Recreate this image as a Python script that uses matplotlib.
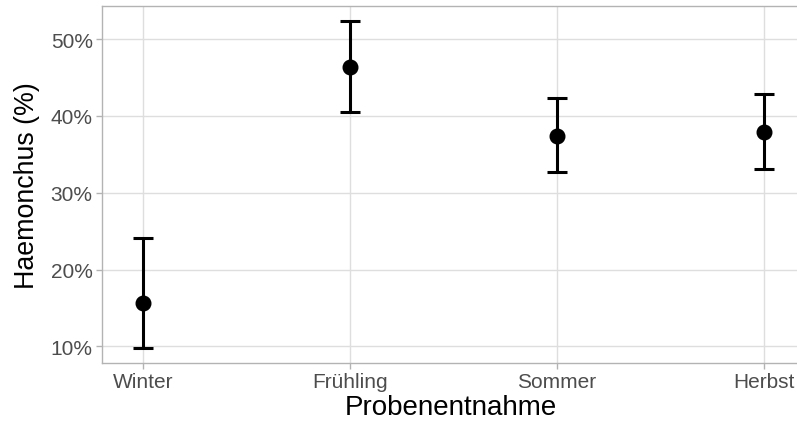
import numpy as np
import matplotlib.pyplot as plt

plt.rcParams['font.family'] = ['Liberation Sans', 'DejaVu Sans']

seasons = ['Winter', 'Frühling', 'Sommer', 'Herbst']
mean_pct = [15.6, 46.3, 37.4, 37.9]
lower_pct = [9.8, 40.5, 32.7, 33.1]
upper_pct = [24.1, 52.3, 42.3, 42.9]

W, H = 797, 427
fig = plt.figure(figsize=(W / 100, H / 100), dpi=100)
left, right, top, bottom = 101.7, 800, 7, 364
ax = fig.add_axes([left / W, 1 - bottom / H, (right - left) / W, (bottom - top) / H])

x = np.arange(len(seasons))
mean = np.array(mean_pct)
yerr = np.vstack([mean - np.array(lower_pct), np.array(upper_pct) - mean])

ax.errorbar(x, mean, yerr=yerr, fmt='o', color='black', ecolor='black',
            elinewidth=2.2, capsize=7.2, capthick=2.2, markersize=10.5, zorder=3)

px_per_unit = 206.8
ax.set_xlim(-(143.3 - left) / px_per_unit, (right - 143.3) / px_per_unit)
ax.set_ylim(7.83, 54.3)
ax.set_xticks(x)
ax.set_xticklabels(seasons)
yt = [10, 20, 30, 40, 50]
ax.set_yticks(yt)
ax.set_yticklabels([f'{v}%' for v in yt])

ax.grid(True, color='#DEDEDE', linewidth=1.0, zorder=0)
ax.set_axisbelow(True)
for s in ax.spines.values():
    s.set_color('#B3B3B3')
    s.set_linewidth(1.0)
ax.spines['right'].set_visible(False)

ax.tick_params(axis='both', colors='#B3B3B3', length=4.5, width=1.0,
               labelsize=15, labelcolor='#4D4D4D', pad=2)
ax.set_xlabel('Probenentnahme', fontsize=20, color='black', labelpad=2)
ax.set_ylabel('Haemonchus (%)', fontsize=19.3, color='black', labelpad=8)

fig.savefig('out.png', dpi=100)
